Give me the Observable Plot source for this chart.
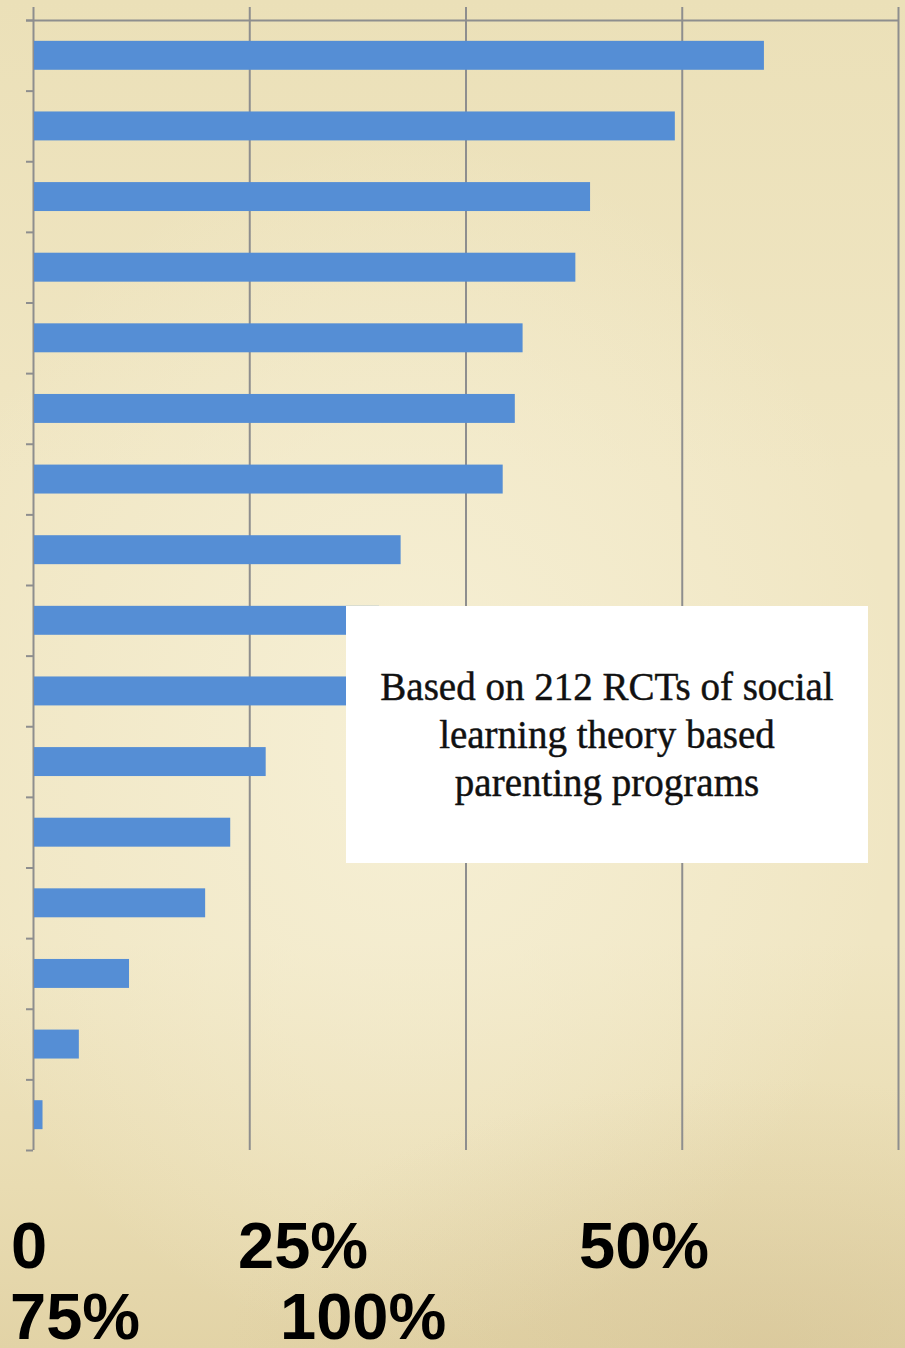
<!DOCTYPE html>
<html>
<head>
<meta charset="utf-8">
<script src="https://cdn.jsdelivr.net/npm/d3@7"></script>
<script src="https://cdn.jsdelivr.net/npm/@observablehq/plot@0.6"></script>
<style>
  html, body { margin: 0; padding: 0; }
  #page {
    width: 905px; height: 1348px; position: relative; overflow: hidden;
    background:
      radial-gradient(ellipse 60% 20% at 85% 100%, rgba(205,185,140,0.35) 0%, rgba(205,185,140,0) 100%),
      radial-gradient(ellipse 55% 45% at 45% 55%, rgba(247,241,216,0.85) 0%, rgba(247,241,216,0) 100%),
      linear-gradient(to bottom, #ebe0b8 0%, #f0e6c3 35%, #f0e6c3 70%, #e9dcb2 88%, #e2d3a6 100%);
  }
  #chart { position: absolute; left: 0; top: 0; }
  #note {
    position: absolute; left: 346px; top: 606px; width: 522px; height: 257px;
    background: #ffffff; display: flex; align-items: center; justify-content: center;
    font-family: "Liberation Serif", "DejaVu Serif", serif; font-size: 39px; line-height: 48px;
    color: #111; text-align: center; -webkit-text-stroke: 0.45px #111;
  }
  .tick {
    position: absolute; font-family: "Liberation Sans", Arial, sans-serif; font-weight: bold;
    font-size: 65px; line-height: 65px; color: #000; white-space: nowrap;
  }
</style>
</head>
<body>
<div id="page">
  <div id="chart"></div>
  <div id="note"></div>
</div>
<script>
// Data (percent of programs)
const values = [84.5, 74.2, 64.4, 62.7, 56.6, 55.7, 54.3, 42.5, 40, 38, 26.9, 22.8, 19.9, 11.1, 5.3, 1.1];
const gridTicks = [0, 25, 50, 75, 100];
const tickLabels = ["0", "25%", "50%", "75%", "100%"];
const noteLines = ["Based on 212 RCTs of social", "learning theory based", "parenting programs"];

const rows = values.map((v, i) => ({i, value: v}));
const boundaries = d3.range(values.length + 1);
const gray = "#8e8e8e";

const plot = Plot.plot({
  width: 905,
  height: 1160,
  marginLeft: 33,
  marginRight: 7,
  marginTop: 20,
  marginBottom: 10,
  style: {background: "transparent", overflow: "visible"},
  x: {domain: [0, 100], axis: null},
  y: {domain: [0, values.length], reverse: true, axis: null},
  marks: [
    Plot.ruleX(gridTicks, {y1: -0.184, y2: values.length, stroke: gray, strokeWidth: 2}),
    Plot.ruleY([0], {x1: -0.81, x2: 100, stroke: gray, strokeWidth: 2}),
    Plot.ruleY(boundaries, {x1: -0.81, x2: 0, stroke: gray, strokeWidth: 2}),
    Plot.rectX(rows, {x1: 0, x2: "value", y1: d => d.i + 0.295, y2: d => d.i + 0.705, fill: "#558ed5", insetLeft: 1})
  ]
});
document.getElementById("chart").appendChild(plot);

// Note box
const note = document.getElementById("note");
note.innerHTML = "<div>" + noteLines.join("<br>") + "</div>";

// Bottom tick labels (wrapped as in the reference)
const labelPos = [[11, 1213], [238, 1213], [579, 1213], [10, 1284], [280, 1284]];
const page = document.getElementById("page");
tickLabels.forEach((t, k) => {
  const s = document.createElement("div");
  s.className = "tick";
  s.textContent = t;
  s.style.left = labelPos[k][0] + "px";
  s.style.top = labelPos[k][1] + "px";
  page.appendChild(s);
});
</script>
</body>
</html>
